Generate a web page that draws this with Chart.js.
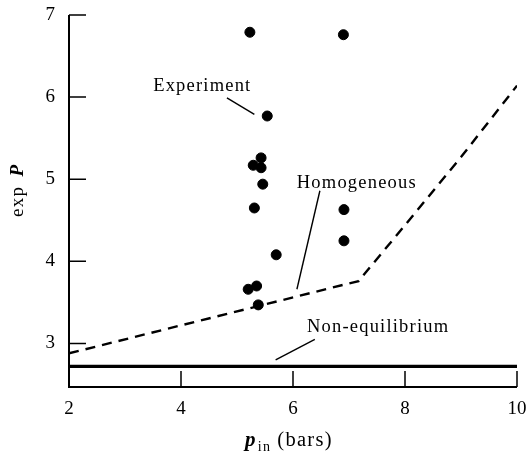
<!DOCTYPE html>
<html>
<head>
<meta charset="utf-8">
<script src="https://cdn.jsdelivr.net/npm/chart.js@4.4.1/dist/chart.umd.min.js"></script>
<style>
  html, body { margin: 0; padding: 0; background: #fff; }
  #wrap { width: 528px; height: 456px; position: relative; }
</style>
</head>
<body>
<div id="wrap"><canvas id="c" width="528" height="456"></canvas></div>
<script>
// Measured exp P against inlet pressure p_in (bars)
const expX = [5.23, 6.90, 5.54, 5.43, 5.29, 5.43, 5.46, 5.31, 6.91, 6.91, 5.70, 5.35, 5.20, 5.38];
const expY = [6.79, 6.76, 5.77, 5.26, 5.17, 5.14, 4.94, 4.65, 4.63, 4.25, 4.08, 3.70, 3.66, 3.47];

// Homogeneous model curve
const homX = [2, 7.17, 8.0, 9.0, 10];
const homY = [2.88, 3.76, 4.44, 5.27, 6.14];

// Non-equilibrium model (constant)
const neqX = [2, 10];
const neqY = [2.72, 2.72];

// Axis ticks
const xTicks = [2, 4, 6, 8, 10];
const yTicks = [3, 4, 5, 6, 7];

// Curve labels with leader lines (data units)
const labels = [
  { text: 'Experiment',      at: [4.38, 6.13], from: [4.82, 5.99], to: [5.31, 5.79] },
  { text: 'Homogeneous',     at: [7.14, 4.95], from: [6.48, 4.86], to: [6.07, 3.66] },
  { text: 'Non-equilibrium', at: [7.52, 3.20], from: [6.39, 3.05], to: [5.69, 2.80] }
];

const SERIF = '"Liberation Serif", "DejaVu Serif", serif';

const toPts = (xs, ys) => xs.map((x, i) => ({ x, y: ys[i] }));

const decor = {
  id: 'decor',
  afterDatasetsDraw(chart) {
    const ctx = chart.ctx;
    const xs = chart.scales.x, ys = chart.scales.y;
    const x0 = xs.getPixelForValue(xs.min), x1 = xs.getPixelForValue(xs.max);
    const yb = ys.getPixelForValue(ys.min), yt = ys.getPixelForValue(ys.max);
    ctx.save();
    ctx.strokeStyle = '#000';
    ctx.lineWidth = 2;
    ctx.lineCap = 'butt';
    // axes
    ctx.beginPath();
    ctx.moveTo(x0, yt); ctx.lineTo(x0, yb); ctx.lineTo(x1, yb);
    ctx.stroke();
    // inward tick marks
    ctx.lineWidth = 1.5;
    ctx.beginPath();
    yTicks.forEach(v => {
      const p = ys.getPixelForValue(v);
      ctx.moveTo(x0, p); ctx.lineTo(x0 + 17, p);
    });
    xTicks.forEach(v => {
      if (v === xs.min) return;
      const p = xs.getPixelForValue(v);
      ctx.moveTo(p, yb); ctx.lineTo(p, yb - 16);
    });
    ctx.stroke();

    // curve labels and leader lines
    ctx.fillStyle = '#000';
    ctx.font = '18.5px ' + SERIF;
    ctx.textAlign = 'center';
    ctx.textBaseline = 'middle';
    ctx.letterSpacing = '1.2px';
    ctx.lineWidth = 1.4;
    labels.forEach(l => {
      ctx.fillText(l.text, xs.getPixelForValue(l.at[0]), ys.getPixelForValue(l.at[1]));
      ctx.beginPath();
      ctx.moveTo(xs.getPixelForValue(l.from[0]), ys.getPixelForValue(l.from[1]));
      ctx.lineTo(xs.getPixelForValue(l.to[0]), ys.getPixelForValue(l.to[1]));
      ctx.stroke();
    });

    // axis titles
    ctx.letterSpacing = '1.3px';
    ctx.textAlign = 'left';
    ctx.textBaseline = 'alphabetic';
    // x title: p_in (bars)
    let tx = 245;
    const by = 446;
    ctx.font = 'italic bold 21px ' + SERIF;
    ctx.fillText('p', tx, by);
    tx += ctx.measureText('p').width + 1;
    ctx.font = '14px ' + SERIF;
    ctx.fillText('in', tx, by + 5);
    tx += ctx.measureText('in').width + 6;
    ctx.font = '20.5px ' + SERIF;
    ctx.fillText('(bars)', tx, by);

    // y title: exp P, rotated
    ctx.translate(23, 217);
    ctx.rotate(-Math.PI / 2);
    ctx.font = '19px ' + SERIF;
    ctx.fillText('exp ', 0, 0);
    const w = ctx.measureText('exp ').width + 3;
    ctx.font = 'italic bold 19px ' + SERIF;
    ctx.fillText('P', w, 0);
    ctx.restore();
  }
};

new Chart(document.getElementById('c'), {
  type: 'scatter',
  data: {
    datasets: [
      {
        label: 'Experiment',
        data: toPts(expX, expY),
        backgroundColor: '#000',
        borderColor: '#000',
        pointRadius: 5,
        pointHoverRadius: 5,
        showLine: false
      },
      {
        label: 'Homogeneous',
        data: toPts(homX, homY),
        showLine: true,
        borderColor: '#000',
        borderWidth: 2.4,
        borderDash: [10, 7],
        pointRadius: 0,
        tension: 0,
        fill: false
      },
      {
        label: 'Non-equilibrium',
        data: toPts(neqX, neqY),
        showLine: true,
        borderColor: '#000',
        borderWidth: 3.2,
        pointRadius: 0,
        fill: false
      }
    ]
  },
  options: {
    responsive: false,
    animation: false,
    devicePixelRatio: 1,
    layout: { padding: { left: 0, right: 11, top: 15, bottom: 0 } },
    plugins: { legend: { display: false }, tooltip: { enabled: false } },
    scales: {
      x: {
        type: 'linear',
        min: 2, max: 10,
        afterBuildTicks: s => { s.ticks = xTicks.map(v => ({ value: v })); },
        afterFit: s => { s.height = 69; s.paddingLeft = 0; s.paddingRight = 0; },
        grid: { display: false },
        border: { display: false },
        ticks: { color: '#000', font: { family: SERIF, size: 19 }, padding: 3, maxRotation: 0 }
      },
      y: {
        type: 'linear',
        min: 2.47, max: 7,
        afterBuildTicks: s => { s.ticks = yTicks.map(v => ({ value: v })); },
        afterFit: s => { s.width = 69; s.paddingTop = 0; s.paddingBottom = 0; },
        grid: { display: false },
        border: { display: false },
        ticks: { color: '#000', font: { family: SERIF, size: 19 }, padding: 6 }
      }
    }
  },
  plugins: [decor]
});
</script>
</body>
</html>
